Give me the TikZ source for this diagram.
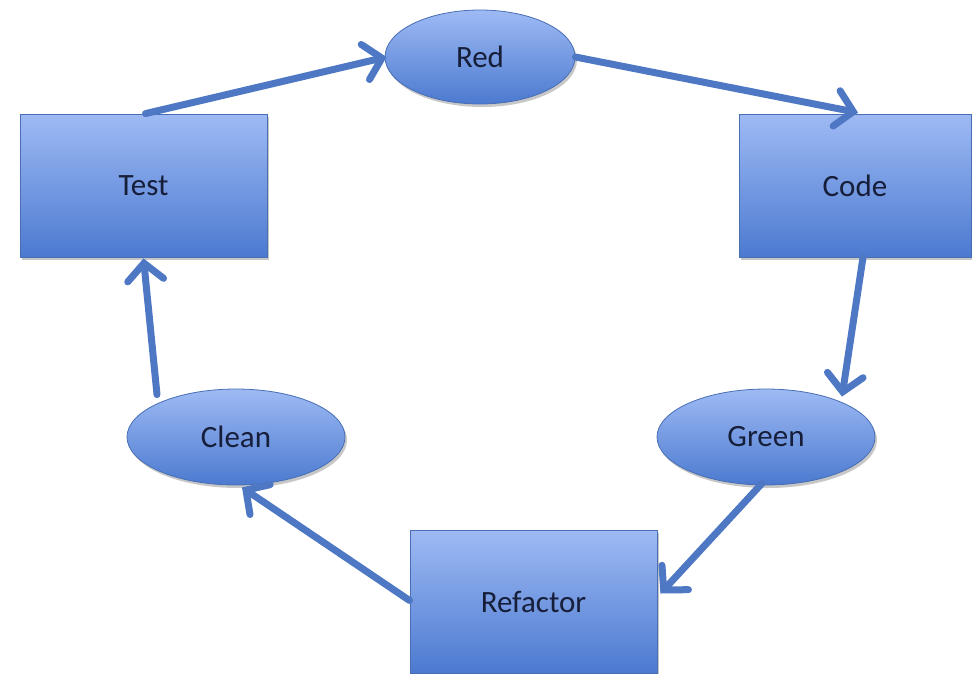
\documentclass[tikz,border=0pt]{standalone}
\usepackage{fontspec}
\setmainfont{Carlito}
\usetikzlibrary{arrows.meta,shapes.geometric,shadows,calc}
\definecolor{boxtop}{RGB}{158,186,244}
\definecolor{boxbot}{RGB}{76,122,208}
\definecolor{boxline}{RGB}{72,110,180}
\definecolor{arrowc}{RGB}{79,120,196}
\definecolor{txt}{RGB}{22,30,58}
\tikzset{
  shapebase/.style={draw=boxline, line width=0.8pt, top color=boxtop, bottom color=boxbot,
    inner sep=0pt, text=txt, font=\fontsize{31}{36}\selectfont,
    drop shadow={shadow xshift=2pt, shadow yshift=-3pt, fill=black, opacity=0.22}},
  boxnode/.style={shapebase, rectangle, minimum width=247pt, minimum height=143pt},
  ovalnode/.style={shapebase, ellipse, minimum width=218pt, minimum height=96pt},
  flow/.style={draw=arrowc, line width=7pt, line cap=round,
    -{Straight Barb[length=17pt, width=36pt, line cap=round]}}
}
\begin{document}
\begin{tikzpicture}[x=1pt,y=-1pt]
\useasboundingbox (0,0) rectangle (972,673);
\begin{scope}
\clip (0,0) rectangle (972,673);
\node[boxnode] (test) at (143.5,185.5) {Test};
\node[boxnode, minimum width=232pt] (code) at (855,185.5) {Code};
\node[boxnode] (refactor) at (533.5,601.5) {Refactor};
\node[ovalnode, minimum width=190pt, minimum height=94pt] (red) at (480,57) {Red};
\node[ovalnode] (green) at (766,437) {Green};
\node[ovalnode] (clean) at (236,437) {Clean};

\draw[flow] ($(test.north)+(2,0)$) -- ($(red.west)+(2,0)$);
\draw[flow] (red.east) -- ($(code.north)+(3,-1)$);
\draw[flow] ($(code.south)+(8,0)$) -- ($(green.north)+(76,8)$);
\draw[flow] ($(green.south)+(-4,-2)$) -- ($(refactor.east)+(3,-8)$);
\draw[flow] ($(refactor.west)+(0,-1)$) -- ($(clean.south)+(6,2)$);
\draw[flow] ($(clean.north)+(-79,6)$) -- ($(test.south)+(0,1)$);
\end{scope}
\end{tikzpicture}
\end{document}
